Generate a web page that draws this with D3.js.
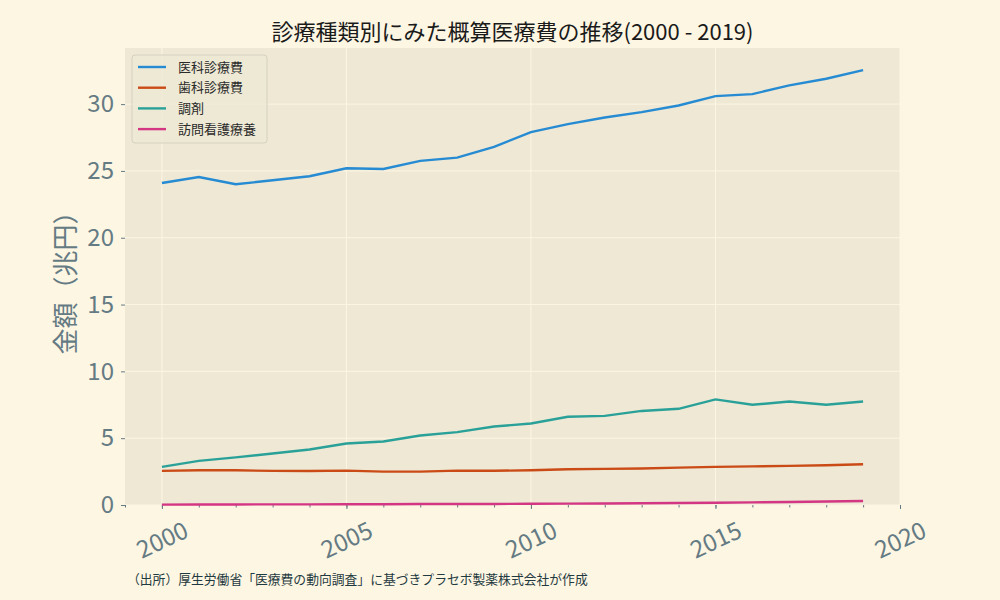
<!DOCTYPE html>
<html>
<head>
<meta charset="utf-8">
<script src="https://cdn.jsdelivr.net/npm/d3@7"></script>
<style>
  body { margin: 0; background: #fdf6e3; }
  svg, svg text { font-family: "Noto Sans CJK JP", "Noto Sans", sans-serif; }
</style>
</head>
<body>
<svg id="chart" width="1000" height="600"></svg>
<script>
// data (兆円)
var years = d3.range(2000, 2020);
var ika   = [24.1, 24.55, 24.0, 24.3, 24.6, 25.2, 25.15, 25.75, 26.0, 26.8, 27.9, 28.5, 29.0, 29.4, 29.9, 30.6, 30.75, 31.4, 31.9, 32.55];
var shika = [2.55, 2.6, 2.6, 2.55, 2.55, 2.57, 2.5, 2.5, 2.57, 2.56, 2.6, 2.67, 2.7, 2.73, 2.8, 2.85, 2.89, 2.93, 2.97, 3.05];
var chozai = [2.85, 3.3, 3.56, 3.85, 4.15, 4.6, 4.75, 5.2, 5.45, 5.87, 6.1, 6.6, 6.67, 7.04, 7.2, 7.9, 7.5, 7.74, 7.5, 7.75];
var homon = [0.03, 0.04, 0.04, 0.05, 0.05, 0.06, 0.06, 0.07, 0.07, 0.08, 0.09, 0.1, 0.11, 0.13, 0.15, 0.17, 0.2, 0.22, 0.26, 0.3];
var seriesNames = ["医科診療費", "歯科診療費", "調剤", "訪問看護療養"];
var seriesColors = ["#268bd2", "#cb4b16", "#2aa198", "#d33682"];
var xTicks = [2000, 2005, 2010, 2015, 2020];
var yTicks = [0, 5, 10, 15, 20, 25, 30];

var svg = d3.select("#chart");
var pl = 125, pr = 900, pt = 48, pb = 505;
var font = '"Noto Sans CJK JP", "Noto Sans", sans-serif';

var x = d3.scaleLinear().domain([1999, 2020]).range([pl, pr]);
var y = d3.scaleLinear().domain([0, 34.2]).range([pb, pt]);

svg.append("rect").attr("width", 1000).attr("height", 600).attr("fill", "#fdf6e3");
svg.append("rect")
  .attr("x", pl).attr("y", pt)
  .attr("width", pr - pl).attr("height", pb - pt)
  .attr("fill", "#eee8d5");

// grid
var grid = svg.append("g");
grid.selectAll(".gx").data(xTicks).enter().append("line")
  .attr("x1", d => x(d)).attr("x2", d => x(d))
  .attr("y1", pt).attr("y2", pb)
  .attr("stroke", "#fdf6e3").attr("stroke-width", 1);
grid.selectAll(".gy").data(yTicks).enter().append("line")
  .attr("x1", pl).attr("x2", pr)
  .attr("y1", d => y(d)).attr("y2", d => y(d))
  .attr("stroke", "#fdf6e3").attr("stroke-width", 1);

// axes
var xAxis = svg.append("g").attr("transform", "translate(0," + pb + ")")
  .call(d3.axisBottom(x).tickValues(xTicks).tickFormat(d3.format("d")).tickSize(4).tickPadding(8));
var xMinor = svg.append("g").attr("transform", "translate(0," + pb + ")")
  .call(d3.axisBottom(x).tickValues(d3.range(1999, 2021)).tickFormat("").tickSize(2.5));
xMinor.select(".domain").remove();
xAxis.select(".domain").remove();
xAxis.attr("font-family", font);
xAxis.selectAll("line").attr("stroke", "#657b83");
xMinor.selectAll("line").attr("stroke", "#657b83");
xAxis.selectAll("text")
  .attr("font-size", 24).attr("fill", "#657b83")
  .attr("text-anchor", "middle")
  .attr("dy", "0.35em")
  .attr("y", 0)
  .attr("transform", "translate(0,35) rotate(-25)");

var yAxis = svg.append("g").attr("transform", "translate(" + pl + ",0)")
  .call(d3.axisLeft(y).tickValues(yTicks).tickSize(4).tickPadding(7));
yAxis.select(".domain").remove();
yAxis.attr("font-family", font);
yAxis.selectAll("line").attr("stroke", "#657b83");
yAxis.selectAll("text").attr("font-size", 24).attr("fill", "#657b83");

// lines
var allSeries = [ika, shika, chozai, homon];
var line = d3.line().x((d, i) => x(years[i])).y(d => y(d));
svg.append("g").selectAll("path").data(allSeries).enter().append("path")
  .attr("d", line)
  .attr("fill", "none")
  .attr("stroke", (d, i) => seriesColors[i])
  .attr("stroke-width", 2.4);

// title and labels
svg.append("text")
  .attr("x", (pl + pr) / 2).attr("y", 40)
  .attr("text-anchor", "middle")
  .attr("font-size", 22).attr("fill", "#1a1a1a")
  .text("診療種類別にみた概算医療費の推移(2000 - 2019)");

svg.append("text")
  .attr("transform", "translate(75," + ((pt + pb) / 2) + ") rotate(-90)")
  .attr("text-anchor", "middle")
  .attr("font-size", 26).attr("fill", "#657b83")
  .text("金額（兆円）");

svg.append("text")
  .attr("x", 127).attr("y", 584)
  .attr("font-size", 12.8).attr("fill", "#1f3a40")
  .text("（出所）厚生労働省「医療費の動向調査」に基づきプラセボ製薬株式会社が作成");

// legend
var legend = svg.append("g").attr("transform", "translate(132,55)");
legend.append("rect")
  .attr("width", 135).attr("height", 88)
  .attr("rx", 3).attr("ry", 3)
  .attr("fill", "#eee8d5").attr("fill-opacity", 0.8)
  .attr("stroke", "#d5d0c0").attr("stroke-width", 1);
var item = legend.selectAll(".item").data(seriesNames).enter().append("g")
  .attr("transform", (d, i) => "translate(0," + (12 + i * 20.7) + ")");
item.append("line")
  .attr("x1", 6).attr("x2", 34)
  .attr("stroke", (d, i) => seriesColors[i]).attr("stroke-width", 2.4);
item.append("text")
  .attr("x", 46).attr("dy", "0.35em")
  .attr("font-size", 13).attr("fill", "#2a2a2a")
  .text(d => d);
</script>
</body>
</html>
